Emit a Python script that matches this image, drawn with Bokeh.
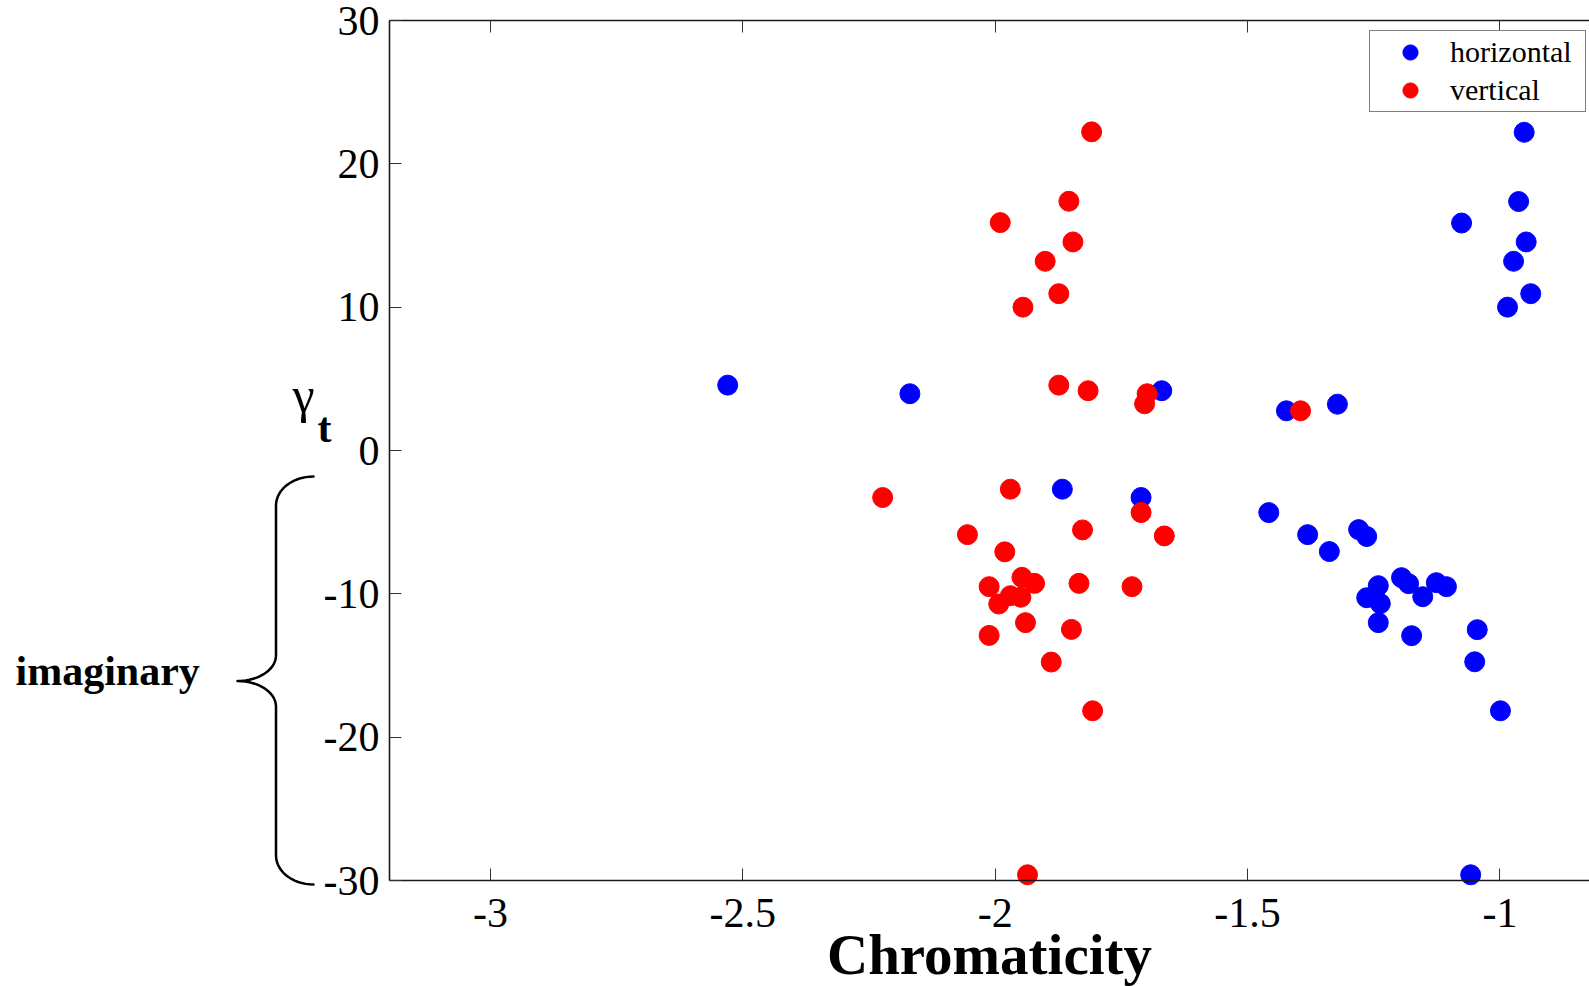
import numpy as np
from bokeh.plotting import figure
from bokeh.models import (Range1d, LinearAxis, FixedTicker, Legend, LegendItem,
                          Label, CustomJSTickFormatter)
from bokeh.embed import file_html
from bokeh.resources import INLINE

# ---------------- data ----------------
x_ticks = [-3, -2.5, -2, -1.5, -1]
x_tick_labels = ["-3", "-2.5", "-2", "-1.5", "-1"]
y_ticks = [-30, -20, -10, 0, 10, 20, 30]
y_tick_labels = ["-30", "-20", "-10", "0", "10", "20", "30"]

series_names = ["horizontal", "vertical"]

horizontal_x = [-2.530, -2.169, -1.670, -1.423, -1.322, -0.952, -0.963, -1.076, -0.948,
                -0.973, -0.939, -0.985, -1.867, -1.711, -1.458, -1.381, -1.338, -1.280,
                -1.264, -1.241, -1.264, -1.237, -1.241, -1.195, -1.181, -1.153, -1.126,
                -1.106, -1.175, -1.045, -1.050, -0.999, -1.058]
horizontal_y = [4.56, 3.96, 4.17, 2.77, 3.23, 22.2, 17.37, 15.87, 14.55,
                13.2, 10.94, 10.0, -2.70, -3.28, -4.33, -5.87, -7.05, -5.52,
                -6.0, -9.43, -10.27, -10.68, -12.01, -8.87, -9.29, -10.20, -9.22,
                -9.50, -12.92, -12.50, -14.74, -18.16, -29.6]

vertical_x = [-1.809, -1.854, -1.990, -1.846, -1.901, -1.874, -1.945, -1.874, -1.816,
              -1.699, -1.704, -1.395, -2.223, -1.970, -1.711, -2.055, -1.827, -1.665,
              -1.981, -2.012, -1.947, -1.922, -1.834, -1.729, -1.970, -1.949, -1.993,
              -1.940, -1.849, -2.012, -1.889, -1.807, -1.936]
vertical_y = [22.23, 17.39, 15.9, 14.55, 13.2, 10.94, 10.0, 4.56, 4.17,
              3.96, 3.26, 2.77, -3.28, -2.70, -4.33, -5.87, -5.54, -5.96,
              -7.07, -9.50, -8.85, -9.27, -9.27, -9.50, -10.13, -10.24, -10.71,
              -12.01, -12.48, -12.90, -14.76, -18.16, -29.6]

# ---------------- geometry ----------------
W, H = 1589, 986
XA0, XA1 = -3.2, -0.8          # extent of the drawn x axis
YA0, YA1 = -30, 30             # extent of the drawn y axis
SX = (1499.5 - 490.0) / 2.0    # px per x unit
SY = 860.0 / 60.0              # px per y unit
X_LEFT_PX, Y_TOP_PX = 389.0, 20.0
x_start = XA0 - X_LEFT_PX / SX
x_end = x_start + W / SX
y_end = YA1 + Y_TOP_PX / SY
y_start = y_end - H / SY


def px2x(px):
    return x_start + px / SX


def py2y(py):
    return y_end - py / SY


p = figure(width=W, height=H, x_range=Range1d(x_start, x_end),
           y_range=Range1d(y_start, y_end),
           output_backend="svg", toolbar_location=None,
           min_border=0, min_border_left=0, min_border_right=0,
           min_border_top=0, min_border_bottom=0,
           x_axis_location=None, y_axis_location=None)
p.grid.visible = False
p.outline_line_color = None
p.background_fill_color = "white"
p.border_fill_color = "white"

FONT = "Liberation Serif"


def style_axis(ax):
    ax.axis_line_color = "#1a1a1a"
    ax.axis_line_width = 1.6
    ax.major_tick_line_color = "#333333"
    ax.major_tick_line_width = 1
    ax.major_tick_in = 12
    ax.major_tick_out = 0
    ax.minor_tick_line_color = None
    ax.major_label_text_font = FONT
    ax.major_label_text_font_size = "42px"
    ax.major_label_text_color = "black"


xb = LinearAxis(ticker=FixedTicker(ticks=x_ticks),
                major_label_overrides=dict(zip(x_ticks, x_tick_labels)),
                fixed_location=YA0, bounds=(XA0, XA1))
style_axis(xb)
xb.major_label_standoff = 18
xb.axis_label = "Chromaticity"
xb.axis_label_text_font = FONT
xb.axis_label_text_font_style = "bold"
xb.axis_label_text_font_size = "57px"
xb.axis_label_text_color = "black"
xb.axis_label_standoff = -7
p.add_layout(xb, "below")

yl = LinearAxis(ticker=FixedTicker(ticks=y_ticks),
                major_label_overrides=dict(zip(y_ticks, y_tick_labels)),
                fixed_location=XA0, bounds=(YA0, YA1))
style_axis(yl)
yl.major_label_standoff = 10
p.add_layout(yl, "left")

xt = LinearAxis(ticker=FixedTicker(ticks=x_ticks),
                formatter=CustomJSTickFormatter(code="return ''"),
                fixed_location=YA1, bounds=(XA0, XA1))
style_axis(xt)
xt.major_label_text_font_size = "0px"
xt.major_label_standoff = 0
p.add_layout(xt, "above")

# ---------------- points ----------------
rb = p.scatter(horizontal_x, horizontal_y, size=20, marker="circle",
               fill_color="#0000ff", line_color="#0000ff")
rr = p.scatter(vertical_x, vertical_y, size=20, marker="circle",
               fill_color="#ff0000", line_color="#ff0000")

legend = Legend(items=[LegendItem(label=series_names[0], renderers=[rb]),
                       LegendItem(label=series_names[1], renderers=[rr])],
                location=(1369, H - 112))
legend.padding = 2
legend.spacing = 0
legend.margin = 0
legend.glyph_width = 76
legend.glyph_height = 38
legend.label_standoff = 2
legend.label_width = 133
legend.label_height = 38
legend.label_text_font = FONT
legend.label_text_font_size = "30px"
legend.label_text_color = "black"
legend.border_line_color = "black"
legend.border_line_width = 1.5
legend.background_fill_color = "white"
legend.background_fill_alpha = 1
p.add_layout(legend)

# ---------------- annotations ----------------
p.add_layout(Label(x=px2x(292), y=py2y(394), text="γ", text_font=FONT,
                   text_font_size="50px", text_color="black",
                   text_align="left", text_baseline="alphabetic"))
p.add_layout(Label(x=px2x(317), y=py2y(427), text="t", text_font=FONT,
                   text_font_style="bold", text_font_size="42px", text_color="black",
                   text_align="left", text_baseline="alphabetic"))
p.add_layout(Label(x=px2x(15), y=py2y(670), text="imaginary", text_font=FONT,
                   text_font_style="bold", text_font_size="42px", text_color="black",
                   text_align="left", text_baseline="alphabetic"))

# curly brace (page-pixel geometry)
t = np.linspace(0, np.pi / 2, 16)
xe, xv, xtip = 313.0, 275.5, 237.0
y_top, y_v1, y_mid, y_v2, y_bot = 476.0, 505.0, 680.5, 855.0, 884.0
bx = np.concatenate([
    xe - (xe - xv) * np.sin(t),
    xtip + (xv - xtip) * np.cos(t),
    xtip + (xv - xtip) * np.sin(t),
    xe - (xe - xv) * np.cos(t),
])
by = np.concatenate([
    y_v1 - (y_v1 - y_top) * np.cos(t),
    (y_mid - 25.5) + 25.5 * np.sin(t),
    (y_mid + 25.5) - 25.5 * np.cos(t),
    y_v2 + (y_bot - y_v2) * np.sin(t),
])
p.line([px2x(v) for v in bx], [py2y(v) for v in by], line_color="black",
       line_width=2.5, line_cap="round", line_join="round")

open("out.html", "w").write(file_html(p, INLINE))
